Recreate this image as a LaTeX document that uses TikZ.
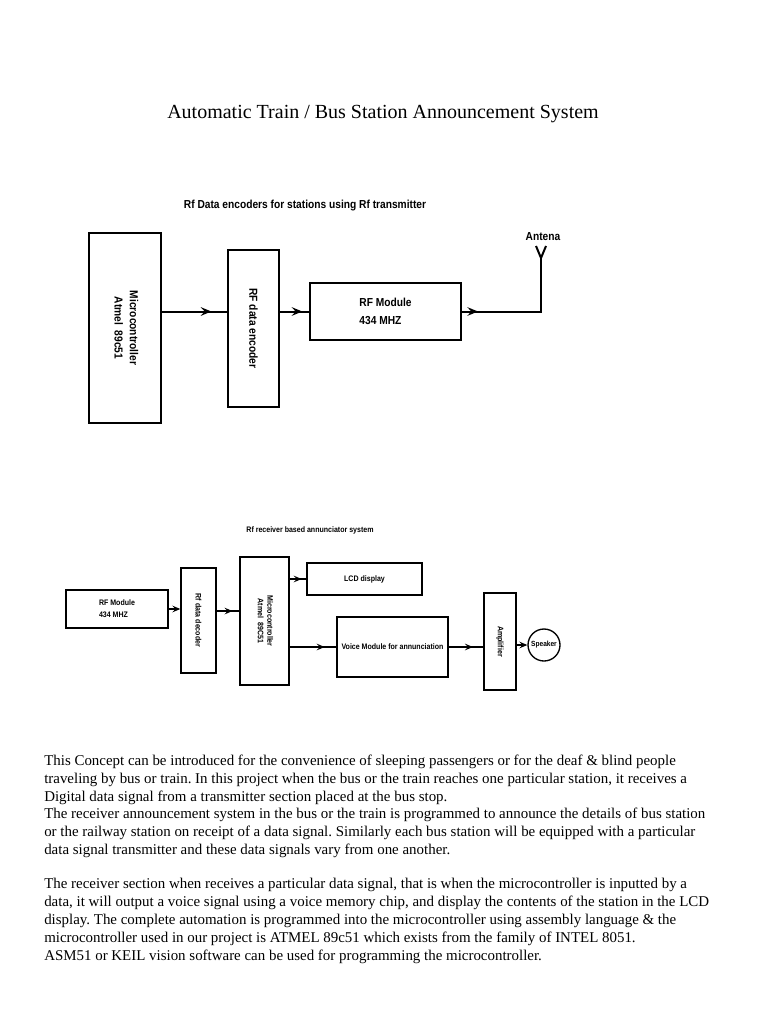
\documentclass[tikz,border=0pt]{standalone}
\usepackage{fontspec}
\setmainfont{Liberation Serif}
\newfontfamily\diagfont[FakeStretch=0.88]{Liberation Sans}
\usetikzlibrary{arrows.meta,decorations.markings}
\frenchspacing
\begin{document}
\begin{tikzpicture}[x=0.75pt,y=-0.75pt,
  box/.style={draw, line width=1.5pt, inner sep=0pt},
  sbox/.style={draw, line width=1pt, inner sep=0pt},
  lbl/.style={font=\diagfont\bfseries\fontsize{8.7}{10.4}\selectfont},
  slbl/.style={font=\diagfont\bfseries\fontsize{6}{7.2}\selectfont},
  bigtip/.tip={Stealth[length=8pt,width=6.5pt,inset=3pt]},
  smalltip/.tip={Stealth[length=6pt,width=5pt,inset=2.3pt]},
  midarr/.style={postaction={decorate},decoration={markings,mark=at position #1 with {\arrow{bigtip}}}},
  smidarr/.style={postaction={decorate},decoration={markings,mark=at position #1 with {\arrow{smalltip}}}},
  conn/.style={line width=1.5pt},
  sconn/.style={line width=1pt},
  txt/.style={anchor=base west, inner sep=0pt, font=\fontsize{11.2}{13.4}\selectfont}]

\useasboundingbox[fill=white] (0,0) rectangle (768,1024);

% title
\node[font=\fontsize{15}{18}\selectfont, anchor=base, inner sep=0pt] (title) at (383,118) {Automatic Train / Bus Station Announcement System};

% ---------- top diagram ----------
\node[lbl, anchor=base, inner sep=0pt] (sub1) at (305,208) {Rf Data encoders for stations using Rf transmitter};

\node[box, lbl, minimum width=54pt, minimum height=142.5pt] (mc1) at (125,328)
  {\rotatebox{-90}{\begin{tabular}{@{}c@{}}Microcontroller\\[1pt]Atmel\ \ 89c51\end{tabular}}};
\node[box, lbl, minimum width=38.25pt, minimum height=117.75pt] (enc) at (253.5,328.5)
  {\rotatebox{-90}{RF data encoder}};
\node[box, lbl, align=left, minimum width=113.25pt, minimum height=42.75pt] (rfm1) at (385.5,311.5)
  {RF Module\\[3pt]434 MHZ};

\draw[conn, midarr=0.76] (mc1.east |- rfm1.west) -- (enc.west |- rfm1.west);
\draw[conn, midarr=0.77] (enc.east |- rfm1.west) -- (rfm1.west);

\coordinate (antbase) at (541,258);
\draw[conn, midarr=12pt] (rfm1.east) -- (antbase |- rfm1.east) -- (antbase);
\draw[conn] (536,246) -- (antbase) -- (546,246);
\node[lbl, anchor=base, inner sep=0pt] (antlbl) at (543,240) {Antena};

% ---------- bottom diagram ----------
\node[slbl, anchor=base, inner sep=0pt] (sub2) at (310,532) {Rf receiver based annunciator system};

\node[sbox, slbl, align=left, minimum width=76.5pt, minimum height=28.5pt] (rfm2) at (117,609)
  {RF Module\\[2pt]434 MHZ};
\node[sbox, slbl, minimum width=26.25pt, minimum height=78.75pt] (dec) at (198.5,620.5)
  {\rotatebox{-90}{Rf data decoder}};
\node[sbox, slbl, minimum width=36.75pt, minimum height=96pt] (mc2) at (264.5,621)
  {\rotatebox{-90}{\begin{tabular}{@{}c@{}}Microcontroller\\[0pt]Atmel\ \ 89C51\end{tabular}}};
\node[sbox, slbl, minimum width=86.25pt, minimum height=24pt] (lcd) at (364.5,579) {LCD display};
\node[sbox, slbl, minimum width=83.25pt, minimum height=45pt] (voice) at (392.5,647) {Voice Module for annunciation};
\node[sbox, slbl, minimum width=24pt, minimum height=72.75pt] (amp) at (500,641.5)
  {\rotatebox{-90}{Amplifier}};
\node[circle, draw, line width=1pt, font=\diagfont\bfseries\fontsize{5.6}{6.7}\selectfont, minimum size=24pt, inner sep=0pt] (spk) at (544,645) {Speaker};

\draw[sconn, -{smalltip}] (rfm2.east) -- (rfm2.east -| dec.west);
\coordinate (d2m) at ([yshift=7.1pt]dec.east);
\draw[sconn, smidarr=0.7] (d2m) -- (d2m -| mc2.west);
\draw[sconn, smidarr=0.72] (mc2.east |- lcd.west) -- (lcd.west);
\draw[sconn, smidarr=0.75] (mc2.east |- voice.west) -- (voice.west);
\draw[sconn, smidarr=0.7] (voice.east) -- (voice.east -| amp.west);
\draw[sconn, -{smalltip}] (amp.east |- spk.west) -- (spk.west);

% ---------- paragraph ----------
\node[txt] (t1) at (44,765) {This Concept can be introduced for the convenience of sleeping passengers or for the deaf \& blind people};
\node[txt] (t2) at (44,783) {traveling by bus or train. In this project when the bus or the train reaches one particular station, it receives a};
\node[txt] (t3) at (44,801) {Digital data signal from a transmitter section placed at the bus stop.};
\node[txt] (t4) at (44,818) {The receiver announcement system in the bus or the train is programmed to announce the details of bus station};
\node[txt] (t5) at (44,836) {or the railway station on receipt of a data signal. Similarly each bus station will be equipped with a particular};
\node[txt] (t6) at (44,854) {data signal transmitter and these data signals vary from one another.};
\node[txt] (t7) at (44,888) {The receiver section when receives a particular data signal, that is when the microcontroller is inputted by a};
\node[txt] (t8) at (44,906) {data, it will output a voice signal using a voice memory chip, and display the contents of the station in the LCD};
\node[txt] (t9) at (44,924) {display. The complete automation is programmed into the microcontroller using assembly language \& the};
\node[txt] (t10) at (44,942) {microcontroller used in our project is ATMEL 89c51 which exists from the family of INTEL 8051.};
\node[txt] (t11) at (44,960) {ASM51 or KEIL vision software can be used for programming the microcontroller.};
\end{tikzpicture}
\end{document}
